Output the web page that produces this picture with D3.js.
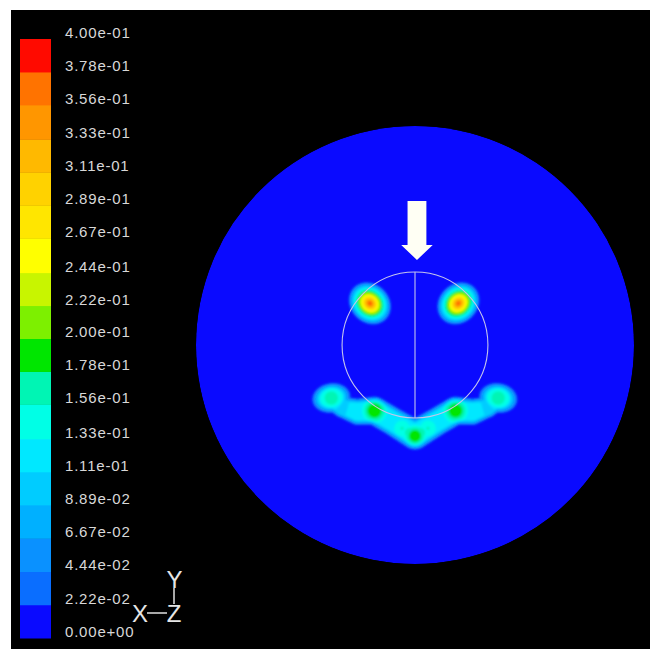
<!DOCTYPE html>
<html>
<head>
<meta charset="utf-8">
<script src="https://cdn.jsdelivr.net/npm/d3@7"></script>
<style>
  html, body { margin: 0; padding: 0; background: #ffffff; }
  svg { display: block; }
</style>
</head>
<body>
<svg id="chart" width="650" height="649"></svg>
<script>
// Contour levels shown on the colour bar (bottom to top)
const levelLabels = ["0.00e+00","2.22e-02","4.44e-02","6.67e-02","8.89e-02","1.11e-01",
  "1.33e-01","1.56e-01","1.78e-01","2.00e-01","2.22e-01","2.44e-01","2.67e-01",
  "2.89e-01","3.11e-01","3.33e-01","3.56e-01","3.78e-01","4.00e-01"];
const levelValues = levelLabels.map(Number);

// One colour per band, lowest band first
const bandColors = ["#0a0aff","#0a6eff","#0a91ff","#00b0ff","#00ccff","#00e8ff",
  "#00ffe6","#00f5b4","#00e600","#7df000","#c8f500","#ffff00","#ffe600","#ffd200",
  "#ffb900","#ff9600","#ff7300","#ff0a00"];

// Peak zones under the upper contact (mm, value, radii mm, orientation deg)
const spotX     = [-20.6, 19.8];
const spotY     = [ 19.0, 19.0];
const spotPeak  = [0.394, 0.390];
const spotRx    = [11.0, 11.0];
const spotRy    = [ 9.4,  9.4];
const spotAngle = [135, 45];

// Side lobes at the lower corners of the wheel
const lobeX     = [-38.2, 38.0];
const lobeY     = [-24.2, -24.2];
const lobePeak  = [0.135, 0.135];
const lobeRx    = [7.4, 7.4];
const lobeRy    = [9.6, 9.6];
const lobeAngle = [100, 80];

// Crescent under the wheel: centre line (mm), half width (mm), level
const arcX     = [-38.2, -33.0, -26.0, -18.5, -10.0,   0.0,  10.0,  18.5,  26.0,  33.0,  38.0];
const arcY     = [-24.2, -28.5, -30.5, -30.0, -35.0, -41.0, -35.0, -30.0, -30.5, -28.5, -24.2];
const arcHalf  = [  5.6,   5.4,   6.6,   7.0,   7.0,   7.4,   7.0,   7.0,   6.6,   5.4,   5.6];
const arcLevel = [0.120, 0.105, 0.125, 0.130, 0.125, 0.130, 0.125, 0.130, 0.125, 0.105, 0.120];

// Local maxima riding on the crescent and lobes (mm, extra value, radius mm)
const bumpX   = [-18.5, 0.0, 18.5, -38.2, 38.0, -6.0, 6.0];
const bumpY   = [-30.0, -41.5, -30.0, -24.2, -24.2, -38.0, -38.0];
const bumpAmp = [0.068, 0.066, 0.066, 0.030, 0.030, 0.030, 0.030];
const bumpR   = [6.0, 5.2, 6.0, 5.5, 5.5, 4.0, 4.0];

// Geometry of the section (mm)
const outerRadius = 100;
const innerRadius = 33.3;
const loadX = 0.9;           // load arrow axis
const loadTip = 38.8;        // arrow tip height
const loadTail = 65.8;       // arrow tail height

const svg = d3.select("#chart");

// Black viewport
svg.append("rect").attr("x", 11).attr("y", 10).attr("width", 639).attr("height", 639).attr("fill", "#000");

// Scales: section mm -> pixels
const x = d3.scaleLinear().domain([-outerRadius, outerRadius]).range([196, 634]);
const y = d3.scaleLinear().domain([-outerRadius, outerRadius]).range([564, 126]);

// Sample the field on a regular grid
const step = 0.5;
const n = Math.round(2 * outerRadius / step) + 1;
const grid = new Float64Array(n * n);
const ramp = (d, w) => Math.max(0, Math.min(1, (1 - d) / w));

function ellipseDist(gx, gy, cx, cy, rx, ry, deg) {
  const a = deg * Math.PI / 180, ca = Math.cos(a), sa = Math.sin(a);
  const dx = gx - cx, dy = gy - cy;
  const u = (dx * ca + dy * sa) / rx, v = (-dx * sa + dy * ca) / ry;
  return Math.sqrt(u * u + v * v);
}

for (let j = 0; j < n; j++) {
  const gy = outerRadius - j * step;
  for (let i = 0; i < n; i++) {
    const gx = -outerRadius + i * step;
    if (Math.abs(gx) > 60 || gy > 40 || gy < -60) continue;
    let val = 0;
    for (let s = 0; s < spotX.length; s++) {
      const d = ellipseDist(gx, gy, spotX[s], spotY[s], spotRx[s], spotRy[s], spotAngle[s]);
      if (d < 1) val = Math.max(val, spotPeak[s] * (1 - d));
    }
    for (let s = 0; s < lobeX.length; s++) {
      const d = ellipseDist(gx, gy, lobeX[s], lobeY[s], lobeRx[s], lobeRy[s], lobeAngle[s]);
      if (d < 1) val = Math.max(val, lobePeak[s] * ramp(d, 0.5));
    }
    for (let s = 0; s < arcX.length - 1; s++) {
      const ax = arcX[s], ay = arcY[s], bx = arcX[s + 1], by = arcY[s + 1];
      const ex = bx - ax, ey = by - ay;
      const t = Math.max(0, Math.min(1, ((gx - ax) * ex + (gy - ay) * ey) / (ex * ex + ey * ey)));
      const px = ax + t * ex, py = ay + t * ey;
      const dist = Math.hypot(gx - px, gy - py);
      const hw = arcHalf[s] + t * (arcHalf[s + 1] - arcHalf[s]);
      const lv = arcLevel[s] + t * (arcLevel[s + 1] - arcLevel[s]);
      if (dist < hw) val = Math.max(val, lv * ramp(dist / hw, 0.45));
    }
    if (val > 0) {
      for (let s = 0; s < bumpX.length; s++) {
        const d2 = ((gx - bumpX[s]) ** 2 + (gy - bumpY[s]) ** 2) / (bumpR[s] * bumpR[s]);
        if (d2 < 1) val += bumpAmp[s] * (1 - d2);
      }
    }
    grid[i + j * n] = val;
  }
}

const contours = d3.contours().size([n, n]).thresholds(levelValues.slice(1, 18))(grid);
const proj = d3.geoTransform({
  point(px, py) {
    this.stream.point(x(-outerRadius + (px - 0.5) * step), y(outerRadius - (py - 0.5) * step));
  }
});
const path = d3.geoPath(proj);

const defs = svg.append("defs");
defs.append("clipPath").attr("id", "section")
  .append("circle").attr("cx", x(0)).attr("cy", y(0)).attr("r", x(outerRadius) - x(0));
defs.append("filter").attr("id", "soft")
  .append("feGaussianBlur").attr("stdDeviation", 0.8);

const plot = svg.append("g").attr("clip-path", "url(#section)");
plot.append("circle").attr("cx", x(0)).attr("cy", y(0)).attr("r", x(outerRadius) - x(0))
  .attr("fill", bandColors[0]);
plot.append("g").attr("filter", "url(#soft)")
  .selectAll("path").data(contours).join("path")
  .attr("d", path)
  .attr("fill", (d, i) => bandColors[i + 1]);

// Wheel outline and centre line
const rPx = x(innerRadius) - x(0);
svg.append("circle").attr("cx", x(0)).attr("cy", y(0)).attr("r", rPx)
  .attr("fill", "none").attr("stroke", "#c4c4ec").attr("stroke-width", 1.1);
svg.append("line").attr("x1", x(0)).attr("x2", x(0)).attr("y1", y(innerRadius)).attr("y2", y(-innerRadius))
  .attr("stroke", "#c4c4ec").attr("stroke-width", 1.1);

// Load arrow
const shaftHalf = 4.3, headHalf = 7.2, headBase = 45.7;
const arrowPts = [
  [loadX - shaftHalf, loadTail], [loadX + shaftHalf, loadTail], [loadX + shaftHalf, headBase],
  [loadX + headHalf, headBase], [loadX, loadTip], [loadX - headHalf, headBase], [loadX - shaftHalf, headBase]
];
svg.append("polygon")
  .attr("points", arrowPts.map(p => [x(p[0]), y(p[1])].join(",")).join(" "))
  .attr("fill", "#fffff4");

// Colour bar
const yBar = d3.scaleLinear().domain([0, 0.4]).range([638, 39]);
const bar = svg.append("g");
bar.selectAll("rect").data(bandColors).join("rect")
  .attr("x", 20).attr("width", 31)
  .attr("y", (d, i) => yBar(levelValues[i + 1]))
  .attr("height", (d, i) => yBar(levelValues[i]) - yBar(levelValues[i + 1]) + 0.5)
  .attr("fill", d => d);
bar.selectAll("text").data(levelLabels).join("text")
  .attr("x", 65).attr("y", d => yBar(Number(d)) - 5)
  .attr("dominant-baseline", "middle")
  .attr("font-family", "'Liberation Sans', Arial, sans-serif")
  .attr("font-size", 15)
  .attr("letter-spacing", 0.8)
  .attr("fill", "#d8d8d8")
  .text(d => d);

// Axis triad
const triad = svg.append("g").attr("stroke", "#e0e0e0").attr("stroke-width", 1.5);
triad.append("line").attr("x1", 174).attr("x2", 174).attr("y1", 588).attr("y2", 604);
triad.append("line").attr("x1", 147).attr("x2", 167).attr("y1", 613).attr("y2", 613);
const tri = svg.append("g").attr("font-family", "'Liberation Sans', Arial, sans-serif")
  .attr("font-size", 24).attr("fill", "#e6e6e6").attr("text-anchor", "middle");
tri.append("text").attr("x", 174.5).attr("y", 588).text("Y");
tri.append("text").attr("x", 140).attr("y", 622).text("X");
tri.append("text").attr("x", 174).attr("y", 622).text("Z");
</script>
</body>
</html>
